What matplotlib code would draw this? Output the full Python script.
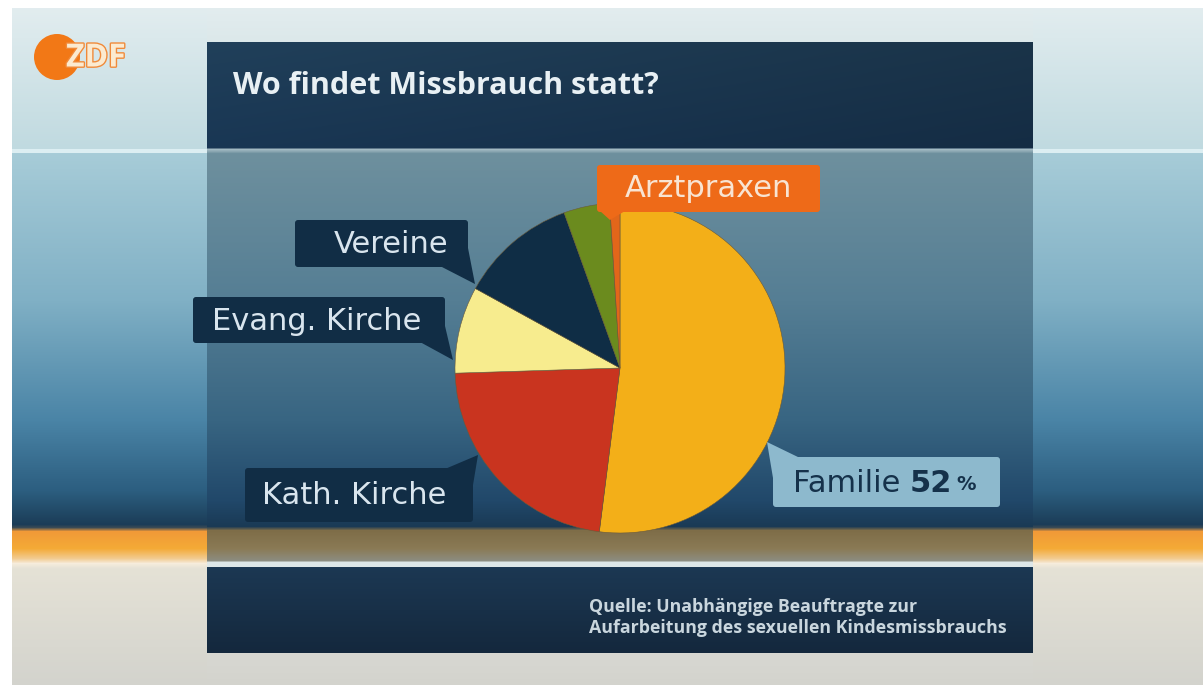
import numpy as np
import matplotlib
matplotlib.use("Agg")
import matplotlib.pyplot as plt
from matplotlib.patches import Circle, FancyBboxPatch, Polygon
from matplotlib.colors import to_rgb
import matplotlib.patheffects as pe

# data (share of cases, %)
categories = ["Familie", "Kath. Kirche", "Evang. Kirche", "Vereine", "Sonstige", "Arztpraxen"]
values = [52, 22.5, 8.5, 11.5, 4.5, 1.0]
colors = ["#F3AF18", "#C9341F", "#F7EC8E", "#0F2D45", "#6B8B1E", "#E2661A"]

title = "Wo findet Missbrauch statt?"
source = ["Quelle: Unabhängige Beauftragte zur",
          "Aufarbeitung des sexuellen Kindesmissbrauchs"]

W, H = 1203, 685
FONT = ["Open Sans", "DejaVu Sans"]
LFONT = ["DejaVu Sans"]


def column(stops):
    ys = np.array([s[0] for s in stops], float)
    cs = np.array([to_rgb(s[1]) for s in stops])
    y = np.arange(H)
    return np.stack([np.interp(y, ys, cs[:, i]) for i in range(3)], axis=1)


# studio backdrop
outside = column([(0, "#E4EEF0"), (148, "#C0DAE0"), (149, "#DCEEF2"), (152, "#DCEEF2"),
                  (153, "#A7CCD8"), (300, "#80B0C5"), (420, "#4A84A6"), (490, "#2C5E80"),
                  (524, "#1B3C57"), (527, "#3A4A55"), (531, "#F19A38"), (548, "#F4AA36"),
                  (558, "#F2CB90"), (563, "#F6ECDC"), (568, "#E5E2D6"), (685, "#D3D3CD")])
# info panel
inside = column([(0, "#E4EEF0"), (41, "#DCE8EA"), (42, "#1F3D56"), (147, "#183450"),
                 (149, "#A2B9C2"), (151, "#8AA6B1"), (153, "#6E909E"), (300, "#557E94"),
                 (420, "#386582"), (500, "#21486A"), (526, "#1A3A55"), (530, "#7E6D48"),
                 (548, "#8A7A55"), (560, "#8C8C80"), (562, "#DDE6E8"), (566, "#DDE6E8"),
                 (567, "#1C3853"), (652, "#14283D"), (653, "#D8D8D2"), (685, "#D3D3CD")])

bg = np.repeat(outside[:, None, :], W, axis=1)
bg[:, 207:1033, :] = inside[:, None, :]
# title bar slightly darker to the right
shade = np.linspace(1.05, 0.85, 1033 - 207)
bg[42:148, 207:1033, :] = np.clip(bg[42:148, 207:1033, :] * shade[None, :, None], 0, 1)
bg[:8, :, :] = 1.0
bg[:, :12, :] = 1.0

fig = plt.figure(figsize=(W / 100, H / 100), dpi=100)
ax = fig.add_axes([0, 0, 1, 1])
ax.imshow(bg, extent=(0, W, H, 0), interpolation="bilinear", zorder=0)

# pie
wedges, _ = ax.pie(values, colors=colors, center=(620, 368), radius=165,
                   startangle=-90, counterclock=True,
                   wedgeprops=dict(edgecolor="#6a5a3a", linewidth=0.4))
for w in wedges:
    w.set_zorder(3)

ax.set_xlim(0, W)
ax.set_ylim(H, 0)
ax.set_aspect("auto")
ax.axis("off")

# title
ax.text(233, 86, title, fontsize=22, fontweight="bold", color="#E8F0F4",
        family=FONT, va="center", ha="left", zorder=5)


def label_box(x0, y0, x1, y1, fc, tail, z=6):
    ax.add_patch(FancyBboxPatch((x0, y0), x1 - x0, y1 - y0,
                                boxstyle="round,pad=0,rounding_size=3",
                                fc=fc, ec="none", zorder=z))
    ax.add_patch(Polygon(tail, closed=True, fc=fc, ec="none", zorder=z))


navy = "#112D45"
txt = "#D9E5EE"

# Vereine
label_box(295, 220, 468, 267, navy, [(440, 266), (468, 248), (475, 284)])
ax.text(448, 244, categories[3], fontsize=22, color=txt, family=LFONT,
        ha="right", va="center", zorder=7)

# Evang. Kirche
label_box(193, 297, 445, 343, navy, [(420, 342), (445, 326), (453, 360)])
ax.text(212, 321, categories[2], fontsize=22, color=txt, family=LFONT,
        ha="left", va="center", zorder=7)

# Kath. Kirche
label_box(245, 468, 473, 522, navy, [(445, 469), (473, 485), (478, 455)])
ax.text(262, 495, categories[1], fontsize=22, color=txt, family=LFONT,
        ha="left", va="center", zorder=7)

# Arztpraxen
label_box(597, 165, 820, 212, "#EE6A18", [(600, 211), (625, 211), (610, 220)])
ax.text(708, 188, categories[5], fontsize=22, color="#F8E4D2", family=LFONT,
        ha="center", va="center", zorder=7)

# Familie 52 %
label_box(773, 457, 1000, 507, "#8DB9CD", [(773, 478), (800, 458), (767, 442)])
t1 = ax.text(793, 483, categories[0] + " ", fontsize=22, color="#15314A",
             family=LFONT, ha="left", va="center", zorder=7)
t2 = ax.annotate(f"{values[0]:.0f}", xycoords=t1, xy=(1, 0.5), va="center",
                 fontsize=22, fontweight="bold", color="#15314A", family=LFONT, zorder=7)
ax.annotate("%", xycoords=t2, xy=(1, 0.5), xytext=(3, -1), textcoords="offset points",
            va="center", fontsize=14, fontweight="bold", color="#15314A", family=LFONT, zorder=7)

# source
ax.text(589, 607, source[0], fontsize=12.8, fontweight="bold", color="#C9D6DE",
        family=FONT, ha="left", va="center", zorder=5)
ax.text(589, 628, source[1], fontsize=12.8, fontweight="bold", color="#C9D6DE",
        family=FONT, ha="left", va="center", zorder=5)

# ZDF logo
ax.add_patch(Circle((57, 57), 23, fc="#F27816", ec="none", zorder=5))
ax.text(66, 58, "ZDF", fontsize=23, fontweight="bold", color="#FBEAD0",
        family=FONT, ha="left", va="center", zorder=6,
        path_effects=[pe.withStroke(linewidth=2, foreground="#F08A3A")])

fig.savefig("out.png", dpi=100)
